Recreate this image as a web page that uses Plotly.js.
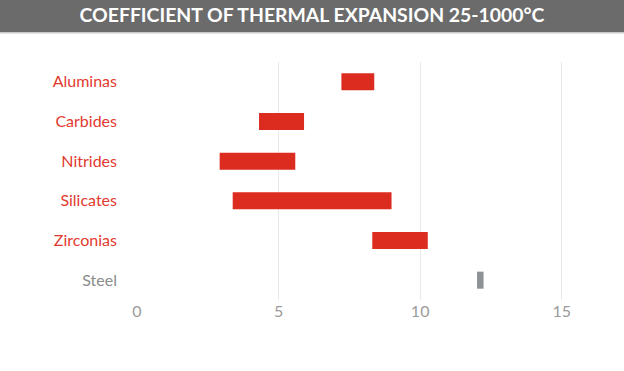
<!DOCTYPE html>
<html>
<head>
<meta charset="utf-8">
<script src="https://cdn.plot.ly/plotly-3.0.1.min.js"></script>
<style>html,body{margin:0;padding:0;background:#fff;}#chart{width:624px;height:371px;}</style>
</head>
<body>
<div id="chart"></div>
<script>
const categories = ["Aluminas", "Carbides", "Nitrides", "Silicates", "Zirconias", "Steel"];
const lowValues  = [7.22, 4.31, 2.92, 3.38, 8.31, 12.01];
const highValues = [8.38, 5.90, 5.59, 8.99, 10.27, 12.24];
const barColors  = ["#dc2b1f", "#dc2b1f", "#dc2b1f", "#dc2b1f", "#dc2b1f", "#8f9295"];
const labelColors = ["#e23a30", "#e23a30", "#e23a30", "#e23a30", "#e23a30", "#8c8c8c"];
const xTicks = [0, 5, 10, 15];
const titleText = "COEFFICIENT OF THERMAL EXPANSION 25-1000°C";

const spans = highValues.map((h, i) => h - lowValues[i]);
const tickText = categories.map((c, i) => '<span style="color:' + labelColors[i] + '">' + c + '</span>');

const trace = {
  type: 'bar',
  orientation: 'h',
  y: categories,
  x: spans,
  base: lowValues,
  width: 0.43,
  marker: {color: barColors, line: {width: 0}},
  hoverinfo: 'skip'
};

const layout = {
  width: 624, height: 371,
  margin: {l: 137, r: 34, t: 62, b: 71, pad: 0},
  paper_bgcolor: '#ffffff', plot_bgcolor: '#ffffff',
  font: {family: 'Lato, "Open Sans", sans-serif'},
  showlegend: false,
  title: {
    text: '<b>' + titleText + '</b>',
    font: {family: 'Lato, "Open Sans", sans-serif', size: 19.4, color: '#ffffff'},
    x: 0.5, xanchor: 'center', xref: 'container',
    y: 1 - 15/371, yanchor: 'middle', yref: 'container'
  },
  xaxis: {
    range: [0, 16],
    tickvals: xTicks,
    ticktext: xTicks.map(String),
    showgrid: true, gridcolor: '#e9e9e9', gridwidth: 1,
    zeroline: false, showline: false,
    ticks: '',
    tickfont: {size: 16, color: '#9b9b9b'},
    fixedrange: true
  },
  yaxis: {
    type: 'category',
    categoryorder: 'array', categoryarray: categories,
    autorange: 'reversed',
    tickvals: categories,
    ticktext: tickText,
    showgrid: false, zeroline: false, showline: false,
    ticks: '',
    ticklabelstandoff: 19,
    tickfont: {size: 16},
    fixedrange: true
  },
  shapes: [
    {type: 'rect', xref: 'paper', yref: 'paper', x0: -0.31, x1: 1.08,
     y0: (300 - 32) / 238, y1: 1.3, fillcolor: '#6b6b6b', line: {width: 0}, layer: 'below'},
    {type: 'rect', xref: 'paper', yref: 'paper', x0: -0.31, x1: 1.08,
     y0: (300 - 33.5) / 238, y1: (300 - 32) / 238, fillcolor: '#c8c8c8', line: {width: 0}, layer: 'below'}
  ]
};

Plotly.newPlot('chart', [trace], layout, {displayModeBar: false, staticPlot: true});
</script>
</body>
</html>
